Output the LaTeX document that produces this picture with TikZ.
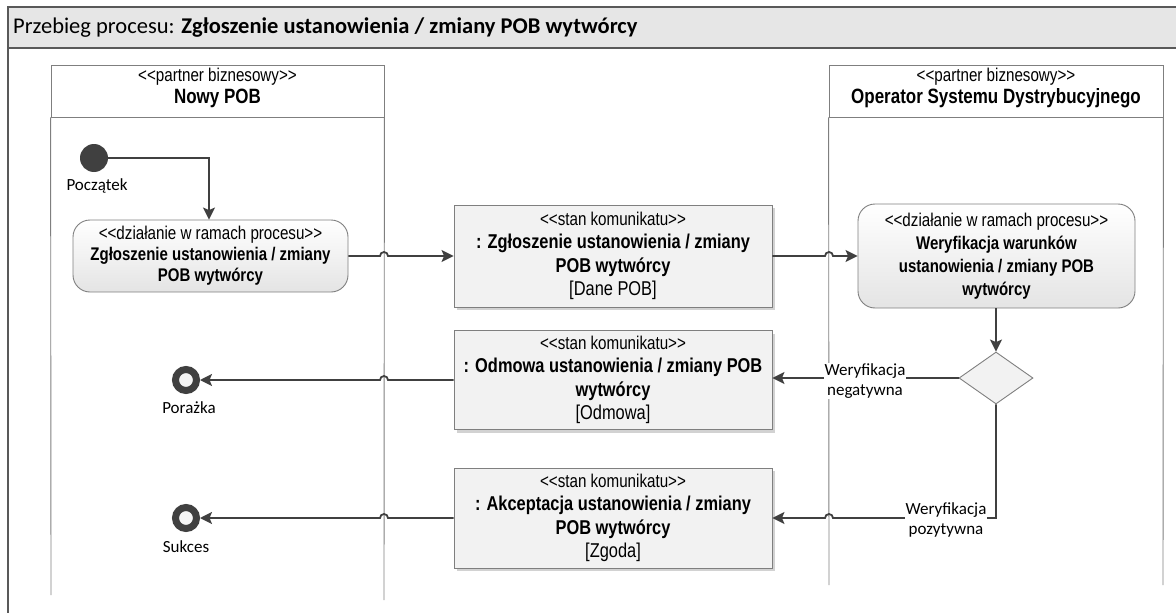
\documentclass[tikz,border=0pt]{standalone}
\usepackage{fontspec}
\setmainfont{Carlito}
\newfontfamily\narrow[FakeStretch=0.82]{Liberation Sans}
\usetikzlibrary{arrows.meta,shadows,shapes.geometric}
\definecolor{ln}{HTML}{404040}
\definecolor{bd}{HTML}{7F7F7F}
\definecolor{hdr}{HTML}{E6E6E6}
\definecolor{boxfill}{HTML}{F2F2F2}
\definecolor{actbot}{HTML}{E4E4E4}
\definecolor{frm}{HTML}{595959}
\newcommand{\stereo}{\narrow\fontsize{18.5}{23.5}\selectfont}
\newcommand{\bname}{\narrow\bfseries\fontsize{20}{23.5}\selectfont}
\newcommand{\aname}{\narrow\bfseries\fontsize{18.3}{23.5}\selectfont}
\newcommand{\lname}{\narrow\bfseries\fontsize{20.7}{23.5}\selectfont}
\newcommand{\cond}{\narrow\fontsize{20}{23.5}\selectfont}
\begin{document}
\begin{tikzpicture}[x=1pt,y=1pt,
  lanebox/.style={draw=bd, line width=0.8pt, minimum height=52, inner sep=0},
  laneline/.style={draw=bd, line width=0.9pt},
  txt/.style={align=center, inner sep=0, font=\fontsize{18}{23.5}\selectfont},
  activity/.style={txt, draw=bd, line width=0.9pt, rounded corners=17, top color=white, bottom color=actbot},
  msgbox/.style={txt, draw=bd, line width=0.9pt, fill=boxfill,
     drop shadow={shadow xshift=3pt, shadow yshift=-3pt, fill=gray!35, opacity=1}},
  flow/.style={draw=ln, line width=1.8pt, -{Stealth[length=12pt,width=12pt,inset=2.5pt]}},
  startnode/.style={circle, fill=ln, minimum size=28, inner sep=0},
  endnode/.style={circle, draw=ln, line width=7pt, fill=gray!8, minimum size=21, inner sep=0},
  small/.style={font=\fontsize{17}{20}\selectfont, align=center, inner sep=1pt},
  guard/.style={font=\fontsize{17}{20}\selectfont, align=center, fill=white, inner sep=1pt},
]
\useasboundingbox (0,0) rectangle (1176,-613);
% frame
\fill[hdr] (8,-7) rectangle (1176,-48);
\draw[frm, line width=1.3pt] (8,-613) -- (8,-7) -- (1176,-7);
\draw[frm, line width=1.3pt] (8,-48) -- (1176,-48);
\node[anchor=west, font=\fontsize{22.5}{26}\selectfont, inner sep=0] (title) at (13,-28)
  {Przebieg procesu: \textbf{Zgłoszenie ustanowienia / zmiany POB wytwórcy}};
% lanes
\node[lanebox, minimum width=333] (lane1) at (217.5,-91) {};
\node[txt, font=\fontsize{18}{21.5}\selectfont] (lane1t) at (217.5,-88)
  {{\stereo <{}<partner biznesowy>{}>}\\{\lname Nowy POB}};
\draw[laneline] (lane1.south west) -- (51,-595);
\draw[laneline] (lane1.south east) -- (384,-600);
\node[lanebox, minimum width=334] (lane2) at (996,-91) {};
\node[txt, font=\fontsize{18}{21.5}\selectfont] (lane2t) at (996,-88)
  {{\stereo <{}<partner biznesowy>{}>}\\{\lname Operator Systemu Dystrybucyjnego}};
\draw[laneline] (lane2.south west) -- (829,-585);
\draw[laneline] (lane2.south east) -- (1163,-585);
% nodes
\node[startnode] (start) at (94,-158) {};
\node[small] (startl) at (97,-186) {Początek};
\node[activity, minimum width=275, minimum height=72, font=\fontsize{18}{21}\selectfont] (act1) at (210.5,-256)
  {{\stereo <{}<działanie w ramach procesu>{}>}\\{\aname Zgłoszenie ustanowienia / zmiany}\\{\aname POB wytwórcy}};
\node[msgbox, minimum width=318, minimum height=102] (msg1) at (613,-256)
  {{\stereo <{}<stan komunikatu>{}>}\\{\bname : Zgłoszenie ustanowienia / zmiany}\\{\bname POB wytwórcy}\\{\cond [Dane POB]}};
\node[activity, minimum width=277, minimum height=104, font=\fontsize{18}{23}\selectfont] (act2) at (996.5,-256)
  {{\stereo <{}<działanie w ramach procesu>{}>}\\{\aname Weryfikacja warunków}\\{\aname ustanowienia / zmiany POB}\\{\aname wytwórcy}};
\node[diamond, draw=bd, line width=0.9pt, fill=boxfill, minimum width=74, minimum height=52, inner sep=0, aspect=1.42] (dec) at (996,-378) {};
\node[msgbox, minimum width=318, minimum height=99] (msg2) at (613,-380)
  {{\stereo <{}<stan komunikatu>{}>}\\{\bname : Odmowa ustanowienia / zmiany POB}\\{\bname wytwórcy}\\{\cond [Odmowa]}};
\node[msgbox, minimum width=318, minimum height=100] (msg3) at (613,-518)
  {{\stereo <{}<stan komunikatu>{}>}\\{\bname : Akceptacja ustanowienia / zmiany}\\{\bname POB wytwórcy}\\{\cond [Zgoda]}};
\node[endnode] (fail) at (186,-380) {};
\node[small] (faill) at (189,-408) {Porażka};
\node[endnode] (succ) at (186,-518) {};
\node[small] (succl) at (186,-547) {Sukces};
% connectors
\draw[flow] (start.east) -| ([xshift=-1.5pt]act1.north);
\draw[flow] (act1.east) -- (380,-256) arc[start angle=180, end angle=0, radius=4] -- (msg1.west);
\draw[flow] (msg1.east) -- (825,-256) arc[start angle=180, end angle=0, radius=4] -- (act2.west);
\draw[flow] (act2.south -| dec.north) -- (dec.north);
\draw[flow] (dec.west) -- (msg2.east |- dec.west);
\draw[flow] (msg2.west |- 0,-380) -- (388,-380) arc[start angle=0, end angle=180, radius=4] -- (fail.east);
\coordinate (corner) at (dec.south |- 0,-518);
\draw[flow] (dec.south) -- (corner) -- (833,-518) arc[start angle=0, end angle=180, radius=4] -- (msg3.east);
\draw[flow] (msg3.west) -- (388,-518) arc[start angle=0, end angle=180, radius=4] -- (succ.east);
% guards
\node[guard] (neg) at (865,-381) {Weryfikacja\\negatywna};
\node[guard] (pos) at (946,-520) {Weryfikacja\\pozytywna};
\end{tikzpicture}
\end{document}
